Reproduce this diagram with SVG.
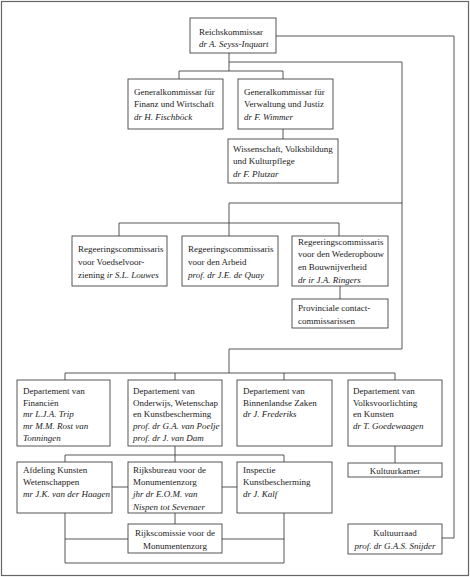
<svg xmlns="http://www.w3.org/2000/svg" width="470" height="577" viewBox="0 0 470 577">
<style>
.bx{fill:#fff;stroke:#444;stroke-width:0.9}
.ln{fill:none;stroke:#444;stroke-width:0.9}
text{font-family:"Liberation Serif","Times New Roman",serif;font-size:9px;fill:#1a1a1a}
.i{font-style:italic}
.c{text-anchor:middle}
</style>
<rect x="0" y="0" width="470" height="577" fill="#fff"/>
<rect x="1.5" y="1.5" width="467" height="574" fill="none" stroke="#666" stroke-width="1.2"/>
<g id="connectors" class="ln">
<path d="M276,36 H454 V538 H442"/>
<path d="M229,53 V71 M179,79 V71 H283 V79"/>
<path d="M229,62 H402 V349 H229 V373"/>
<path d="M283,129 V139"/>
<path d="M402,203 H229 V223 M119,236 V223 H339 V236 M229,223 V236"/>
<path d="M340,286 V299"/>
<path d="M65,380 V373 H395 V380 M175,373 V380 M284,373 V380"/>
<path d="M175,446 V455 M65,462 V455 H284 V462 M175,455 V462"/>
<path d="M395,446 V463"/>
<path d="M112,487 H128 M222,487 H237"/>
<path d="M175,513 V524"/>
<path d="M65,513 V563 H284 V513 M65,539 H128 M222,539 H284"/>
</g>
<g id="reichskommissar"><rect class="bx" x="190" y="18" width="86" height="35"/>
<text x="199" y="35">Reichskommissar</text><text class="i" x="199" y="47">dr A. Seyss-Inquart</text></g>
<g id="gk-finanz"><rect class="bx" x="128" y="79" width="95" height="50"/>
<text x="134" y="94.5">Generalkommissar für</text><text x="134" y="107">Finanz und Wirtschaft</text><text class="i" x="134" y="120">dr H. Fischböck</text></g>
<g id="gk-verwaltung"><rect class="bx" x="238" y="79" width="95" height="50"/>
<text x="244" y="94.5">Generalkommissar für</text><text x="244" y="107">Verwaltung und Justiz</text><text class="i" x="244" y="120">dr F. Wimmer</text></g>
<g id="wissenschaft"><rect class="bx" x="228" y="139" width="110" height="44"/>
<text x="233" y="151.5">Wissenschaft, Volksbildung</text><text x="233" y="164">und Kulturpflege</text><text class="i" x="233" y="177">dr F. Plutzar</text></g>
<g id="rc-voedsel"><rect class="bx" x="72" y="236" width="95" height="50"/>
<text x="78" y="252">Regeeringscommissaris</text><text x="78" y="265">voor Voedselvoor-</text><text x="78" y="277.5">ziening <tspan class="i">ir S.L. Louwes</tspan></text></g>
<g id="rc-arbeid"><rect class="bx" x="182" y="236" width="96" height="50"/>
<text x="188" y="252">Regeeringscommissaris</text><text x="188" y="265">voor den Arbeid</text><text class="i" x="188" y="277.5">prof. dr J.E. de Quay</text></g>
<g id="rc-wederopbouw"><rect class="bx" x="292" y="236" width="96" height="50"/>
<text x="298" y="244.5">Regeeringscommissaris</text><text x="298" y="257">voor den Wederopbouw</text><text x="298" y="270">en Bouwnijverheid</text><text class="i" x="298" y="283">dr ir J.A. Ringers</text></g>
<g id="provinciale"><rect class="bx" x="292" y="299" width="96" height="29"/>
<text x="298" y="311">Provinciale contact-</text><text x="298" y="323.5">commissarissen</text></g>
<g id="dep-financien"><rect class="bx" x="17" y="380" width="93" height="66"/>
<text x="23" y="394">Departement van</text><text x="23" y="405.5">Financiën</text><text class="i" x="23" y="417">mr L.J.A. Trip</text><text class="i" x="23" y="428.5">mr M.M. Rost van</text><text class="i" x="23" y="440.5">Tonningen</text></g>
<g id="dep-onderwijs"><rect class="bx" x="128" y="380" width="94" height="66"/>
<text x="133" y="394">Departement van</text><text x="133" y="405.5">Onderwijs, Wetenschap</text><text x="133" y="417">en Kunstbescherming</text><text class="i" x="133" y="428.5">prof. dr G.A. van Poelje</text><text class="i" x="133" y="440.5">prof. dr J. van Dam</text></g>
<g id="dep-binnenlandse"><rect class="bx" x="237" y="380" width="95" height="66"/>
<text x="243" y="394">Departement van</text><text x="243" y="405.5">Binnenlandse Zaken</text><text class="i" x="243" y="417">dr J. Frederiks</text></g>
<g id="dep-volksvoorlichting"><rect class="bx" x="348" y="380" width="94" height="66"/>
<text x="353" y="394">Departement van</text><text x="353" y="405.5">Volksvoorlichting</text><text x="353" y="417">en Kunsten</text><text class="i" x="353" y="428.5">dr T. Goedewaagen</text></g>
<g id="kultuurkamer"><rect class="bx" x="348" y="463" width="94" height="14"/>
<text class="c" x="395" y="473.5">Kultuurkamer</text></g>
<g id="afdeling-kunsten"><rect class="bx" x="17" y="462" width="95" height="51"/>
<text x="23" y="472.5">Afdeling Kunsten</text><text x="23" y="485">Wetenschappen</text><text class="i" x="23" y="497">mr J.K. van der Haagen</text></g>
<g id="rijksbureau"><rect class="bx" x="128" y="462" width="94" height="51"/>
<text x="133" y="472.5">Rijksbureau voor de</text><text x="133" y="485">Monumentenzorg</text><text class="i" x="133" y="497">jhr dr E.O.M. van</text><text class="i" x="133" y="509.5">Nispen tot Sevenaer</text></g>
<g id="inspectie"><rect class="bx" x="237" y="462" width="95" height="51"/>
<text x="243" y="472.5">Inspectie</text><text x="243" y="485">Kunstbescherming</text><text class="i" x="243" y="497">dr J. Kalf</text></g>
<g id="rijkscomissie"><rect class="bx" x="128" y="524" width="94" height="29"/>
<text class="c" x="175" y="536">Rijkscomissie voor de</text><text class="c" x="175" y="548.5">Monumentenzorg</text></g>
<g id="kultuurraad"><rect class="bx" x="348" y="524" width="94" height="30"/>
<text class="c" x="395" y="535.5">Kultuurraad</text><text class="i c" x="395" y="548.5">prof. dr G.A.S. Snijder</text></g>
</svg>
